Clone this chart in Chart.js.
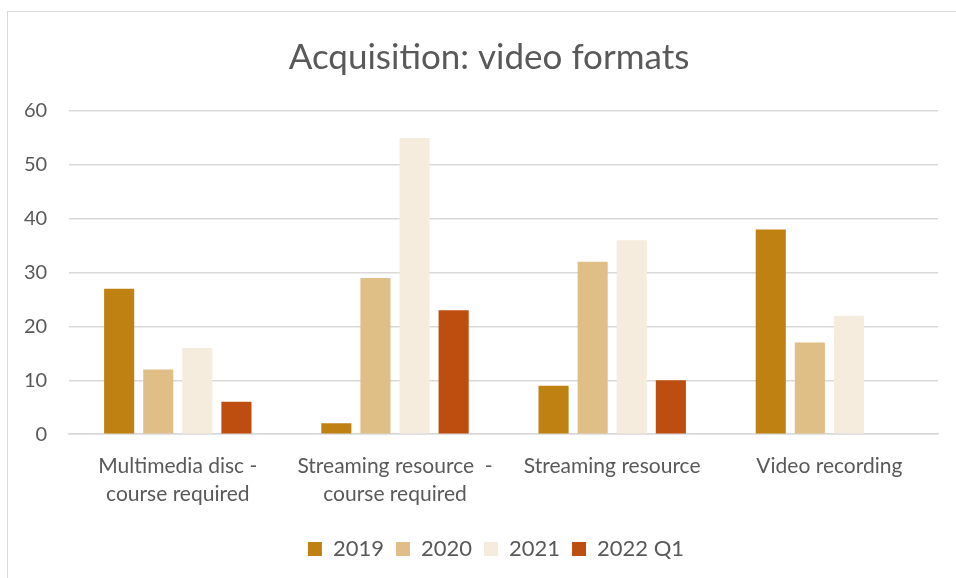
<!DOCTYPE html>
<html>
<head>
<meta charset="utf-8">
<script src="https://cdn.jsdelivr.net/npm/chart.js@4"></script>
<style>
  body { margin: 0; background: #fff; }
  #wrap { position: relative; width: 956px; height: 578px; overflow: hidden; }
  #frame { position: absolute; left: 7px; top: 11px; width: 1200px; height: 1000px; border: 1px solid #d9d9d9; }
  #myBarChart { position: absolute; left: 0; top: 0; }
</style>
</head>
<body>
<div id="wrap">
  <div id="frame"></div>
  <canvas id="myBarChart" width="956" height="578"></canvas>
</div>
<script>
const categories = [
  ['Multimedia disc -', 'course required'],
  ['Streaming resource  -', 'course required'],
  'Streaming resource',
  'Video recording'
];
const seriesNames = ['2019', '2020', '2021', '2022 Q1'];
const values2019 = [27, 2, 9, 38];
const values2020 = [12, 29, 32, 17];
const values2021 = [16, 55, 36, 22];
const values2022Q1 = [6, 23, 10, null];
const colores = ['#BF8212', '#DFBF86', '#F5ECDD', '#BE4E0F'];

const ctx = document.getElementById('myBarChart');
const fuente = "Lato, 'Open Sans', sans-serif";
const gris = '#595959';

// el marco del grafico sigue mas alla del borde derecho, asi que titulo y leyenda van algo a la derecha
const moverCentro = {
  id: 'moverCentro',
  afterLayout(chart) {
    const t = chart.titleBlock;
    if (t) { t.left += 19; t.right += 19; }
    const l = chart.legend;
    if (l) { l.left += 26; l.right += 26; }
  }
};

new Chart(ctx, {
  type: 'bar',
  data: {
    labels: categories,
    datasets: [values2019, values2020, values2021, values2022Q1].map((vals, i) => ({
      label: seriesNames[i],
      data: vals,
      backgroundColor: colores[i],
      borderWidth: 0,
      barPercentage: 0.77,
      categoryPercentage: 0.72
    }))
  },
  plugins: [moverCentro],
  options: {
    responsive: false,
    animation: false,
    layout: { padding: { top: 37, left: 2, right: 18, bottom: 8 } },
    plugins: {
      title: {
        display: true,
        text: 'Acquisition: video formats',
        color: gris,
        font: { family: fuente, size: 35, weight: 'normal' },
        padding: { top: 0, bottom: 32 }
      },
      legend: {
        position: 'bottom',
        labels: {
          color: gris,
          font: { family: fuente, size: 22 },
          boxWidth: 14,
          boxHeight: 14,
          padding: 12
        }
      },
      tooltip: { enabled: false }
    },
    scales: {
      x: {
        grid: { display: false, drawTicks: false },
        border: { color: '#d9d9d9', width: 1.5 },
        ticks: {
          color: gris,
          font: { family: fuente, size: 21, lineHeight: 1.33 },
          padding: 18,
          maxRotation: 0,
          autoSkip: false
        }
      },
      y: {
        min: 0,
        max: 60,
        grid: { color: '#d9d9d9', lineWidth: 1.5, drawTicks: false },
        border: { display: false },
        ticks: {
          stepSize: 10,
          color: gris,
          font: { family: fuente, size: 20 },
          padding: 22
        }
      }
    }
  }
});
</script>
</body>
</html>
